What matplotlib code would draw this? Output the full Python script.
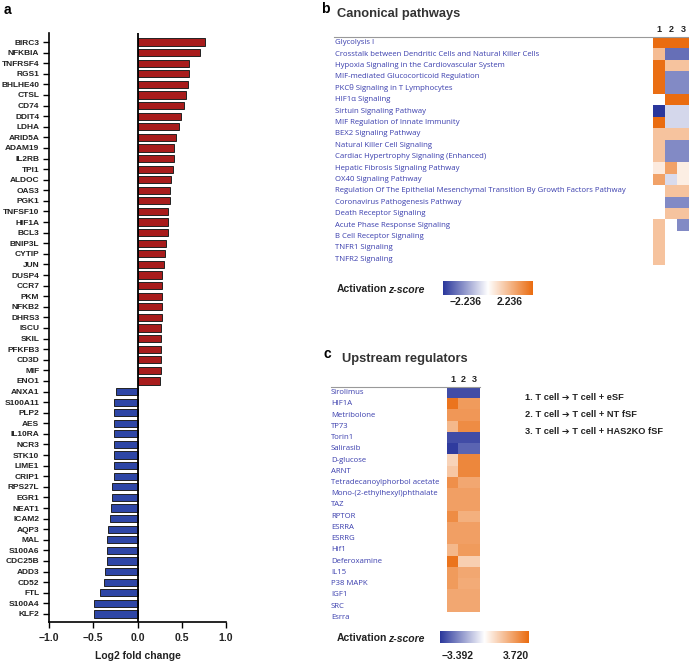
import numpy as np
import matplotlib
matplotlib.use("Agg")
import matplotlib.pyplot as plt
from matplotlib.colors import LinearSegmentedColormap, TwoSlopeNorm
import matplotlib.transforms as mtransforms

plt.rcParams['font.family'] = ['Liberation Sans', 'DejaVu Sans']

# ---- panel a data ----
genes = ["BIRC3", "NFKBIA", "TNFRSF4", "RGS1", "BHLHE40", "CTSL", "CD74", "DDIT4", "LDHA",
         "ARID5A", "ADAM19", "IL2RB", "TPI1", "ALDOC", "OAS3", "PGK1", "TNFSF10", "HIF1A",
         "BCL3", "BNIP3L", "CYTIP", "JUN", "DUSP4", "CCR7", "PKM", "NFKB2", "DHRS3", "ISCU",
         "SKIL", "PFKFB3", "CD3D", "MIF", "ENO1",
         "ANXA1", "S100A11", "PLP2", "AES", "IL10RA", "NCR3", "STK10", "LIME1", "CRIP1",
         "RPS27L", "EGR1", "NEAT1", "ICAM2", "AQP3", "MAL", "S100A6", "CDC25B", "ADD3",
         "CD52", "FTL", "S100A4", "KLF2"]
log2fc = [0.76, 0.71, 0.58, 0.58, 0.575, 0.55, 0.53, 0.49, 0.47,
          0.44, 0.41, 0.41, 0.40, 0.38, 0.37, 0.37, 0.34, 0.34,
          0.34, 0.32, 0.31, 0.30, 0.28, 0.28, 0.28, 0.28, 0.28, 0.27,
          0.265, 0.26, 0.26, 0.26, 0.25,
          -0.24, -0.26, -0.26, -0.26, -0.265, -0.27, -0.27, -0.27, -0.27,
          -0.29, -0.29, -0.30, -0.31, -0.33, -0.34, -0.34, -0.35, -0.37,
          -0.38, -0.42, -0.49, -0.49]

# ---- panel b data ----
pathways = ["Glycolysis I",
            "Crosstalk between Dendritic Cells and Natural Killer Cells",
            "Hypoxia Signaling in the Cardiovascular System",
            "MIF-mediated Glucocorticoid Regulation",
            "PKC\u03b8 Signaling in T Lymphocytes",
            "HIF1\u03b1 Signaling",
            "Sirtuin Signaling Pathway",
            "MIF Regulation of Innate Immunity",
            "BEX2 Signaling Pathway",
            "Natural Killer Cell Signaling",
            "Cardiac Hypertrophy Signaling (Enhanced)",
            "Hepatic Fibrosis Signaling Pathway",
            "OX40 Signaling Pathway",
            "Regulation Of The Epithelial Mesenchymal Transition By Growth Factors Pathway",
            "Coronavirus Pathogenesis Pathway",
            "Death Receptor Signaling",
            "Acute Phase Response Signaling",
            "B Cell Receptor Signaling",
            "TNFR1 Signaling",
            "TNFR2 Signaling"]
nan = np.nan
path_z = [[2.236, 2.236, 2.236],
          [1.0, -1.6, -1.6],
          [2.2, 0.9, 0.9],
          [2.2, -1.3, -1.3],
          [2.2, -1.3, -1.3],
          [nan, 2.236, 2.236],
          [-2.236, -0.45, -0.45],
          [2.236, -0.45, -0.45],
          [0.9, 0.9, 0.9],
          [0.9, -1.3, -1.3],
          [0.9, -1.3, -1.3],
          [0.3, 1.4, 0.25],
          [1.4, -0.4, 0.25],
          [nan, 0.9, 0.9],
          [nan, -1.3, -1.3],
          [nan, 0.9, 0.9],
          [0.9, nan, -1.3],
          [0.9, nan, nan],
          [0.9, nan, nan],
          [0.9, nan, nan]]
path_range = (-2.236, 2.236)

# ---- panel c data ----
regulators = ["Sirolimus", "HIF1A", "Metribolone", "TP73", "Torin1", "Salirasib", "D-glucose",
              "ARNT", "Tetradecanoylphorbol acetate", "Mono-(2-ethylhexyl)phthalate", "TAZ",
              "RPTOR", "ESRRA", "ESRRG", "Hif1", "Deferoxamine", "IL15", "P38 MAPK", "IGF1",
              "SRC", "Esrra"]
reg_z = [[-3.0, -3.0, -3.0],
         [3.5, 2.5, 2.5],
         [2.6, 2.6, 2.6],
         [1.8, 2.9, 2.9],
         [-3.0, -3.0, -3.0],
         [-3.3, -2.6, -2.6],
         [1.1, 3.0, 3.0],
         [1.4, 3.0, 3.0],
         [2.8, 2.2, 2.2],
         [2.4, 2.4, 2.4],
         [2.4, 2.4, 2.4],
         [2.9, 2.0, 2.0],
         [2.4, 2.4, 2.4],
         [2.4, 2.4, 2.4],
         [1.8, 2.5, 2.5],
         [3.5, 1.2, 1.2],
         [2.5, 2.2, 2.2],
         [2.5, 2.1, 2.1],
         [2.2, 2.2, 2.2],
         [2.2, 2.2, 2.2],
         [nan, nan, nan]]
reg_range = (-3.392, 3.720)

conditions = ["1. T cell \u2794 T cell + eSF",
              "2. T cell \u2794 T cell + NT fSF",
              "3. T cell \u2794 T cell + HAS2KO fSF"]

W, H = 689, 661
fig = plt.figure(figsize=(W / 100, H / 100), dpi=100)

def px_axes(x0, y0, x1, y1):
    return fig.add_axes([x0 / W, 1 - y1 / H, (x1 - x0) / W, (y1 - y0) / H])

def fig_text(x, y, s, **kw):
    fig.text(x / W, 1 - y / H, s, **kw)

# ================= panel a =================
ax = px_axes(49, 33, 226, 622)
y = np.arange(len(genes))
cols = ['#A81C1C' if v > 0 else '#2E46A6' for v in log2fc]
ax.barh(y, log2fc, height=0.68, color=cols, edgecolor='#222222', linewidth=0.7, zorder=2)
ax.axvline(0, color='black', lw=1.3, zorder=3)
ax.set_xlim(-1, 1)
ax.set_ylim(len(genes) - 1 + 0.76, -0.85)
ax.set_yticks(y)
ax.set_yticklabels(genes, fontsize=6.0, fontweight='bold', color='#222222')
ax.set_xticks([-1.0, -0.5, 0.0, 0.5, 1.0])
ax.set_xticklabels(['\u22121.0', '\u22120.5', '0.0', '0.5', '1.0'], fontsize=7.5,
                   fontweight='bold', color='#222222')
ax.tick_params(axis='y', length=4, width=1, pad=3)
ax.tick_params(axis='x', length=4, width=1, pad=4)
for s in ['top', 'right']:
    ax.spines[s].set_visible(False)
for s in ['left', 'bottom']:
    ax.spines[s].set_linewidth(1.2)
ax.set_xlabel('Log2 fold change', fontsize=7.5, fontweight='bold', labelpad=6, color='#222222')
fig_text(4, 14, 'a', fontsize=10, fontweight='bold')

# ================= heatmaps =================
cmap = LinearSegmentedColormap.from_list(
    'act', [(0, '#2A379C'), (0.5, '#FFFFFF'), (1, '#EA6C10')])
cmap.set_bad('white')
lab_col = '#3B3FAE'

def heat(rect, data, labels, rng, label_x, line_x0, nrows_drawn):
    hax = px_axes(*rect)
    arr = np.array(data, dtype=float)
    norm = TwoSlopeNorm(vmin=rng[0], vcenter=0, vmax=rng[1])
    hax.imshow(np.ma.masked_invalid(arr[:nrows_drawn]), cmap=cmap, norm=norm,
               aspect='auto', interpolation='nearest',
               extent=(-0.5, 2.5, nrows_drawn - 0.5, -0.5))
    hax.set_xlim(-0.5, 2.5)
    hax.set_ylim(len(labels) - 0.5, -0.5)
    hax.axis('off')
    tr = mtransforms.blended_transform_factory(fig.transFigure, hax.transData)
    for i, lab in enumerate(labels):
        hax.text(label_x / W, i, lab, transform=tr, fontsize=5.6, color=lab_col,
                 va='center', ha='left', family=['Open Sans', 'DejaVu Sans'])
    for j in range(3):
        hax.text(j, -0.75, str(j + 1), ha='center', va='bottom', fontsize=6.5,
                 fontweight='bold', color='#222222')
    # header rule
    line_y = 1 - rect[1] / H
    fig.add_artist(plt.Line2D([line_x0 / W, rect[2] / W], [line_y, line_y],
                              color='#999999', lw=0.8, transform=fig.transFigure))
    return hax

def colorbar(x0, y0, x1, y1, rng, text_y, lab_x, lab_xs):
    cax = px_axes(x0, y0, x1, y1)
    grad = np.linspace(0, 1, 256)[None, :]
    cax.imshow(grad, cmap=cmap, aspect='auto', extent=(0, 1, 0, 1))
    cax.axis('off')
    fig_text(lab_x, (y0 + y1) / 2 + 1, 'Activation', fontsize=7.5, fontweight='bold',
             va='center', ha='left', color='#222222')
    fig_text(lab_x + 51, (y0 + y1) / 2 + 1.5, 'z-score', fontsize=7.5, fontweight='bold',
             fontstyle='italic', va='center', ha='left', color='#222222')
    fig_text(lab_xs[0], text_y, '\u2212%.3f' % abs(rng[0]), fontsize=7.5, fontweight='bold',
             ha='center', va='center', color='#222222')
    fig_text(lab_xs[1], text_y, '%.3f' % rng[1], fontsize=7.5, fontweight='bold',
             ha='center', va='center', color='#222222')

# panel b
fig_text(321, 13, 'b', fontsize=10, fontweight='bold')
fig_text(337, 17, 'Canonical pathways', fontsize=9.3, fontweight='bold', color='#333333')
heat((653, 37, 689, 265), path_z, pathways, path_range, 335, 334, len(pathways))
colorbar(443, 281, 532, 295, path_range, 302, 337, (466, 510))

# panel c
fig_text(324, 358, 'c', fontsize=10, fontweight='bold')
fig_text(342, 362, 'Upstream regulators', fontsize=9.3, fontweight='bold', color='#333333')
heat((447, 387, 480, 623), reg_z, regulators, reg_range, 331, 331, len(regulators) - 1)
colorbar(440, 631, 529, 643, reg_range, 656, 337, (458, 516))

for i, c in enumerate(conditions):
    fig_text(525, 398 + i * 16.5, c, fontsize=6.7, fontweight='bold', va='center',
             color='#222222', family=['Liberation Sans', 'DejaVu Sans'])

fig.savefig('out.png', dpi=100)
